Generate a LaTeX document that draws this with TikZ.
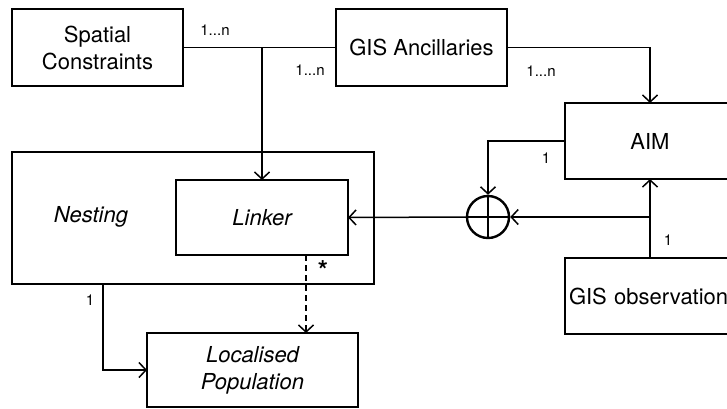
\documentclass[tikz,border=0pt]{standalone}
\usepackage{fontspec}
\setmainfont{TeX Gyre Heros}
\usepackage{tikz}
\usetikzlibrary{arrows.meta}

\begin{document}
\begin{tikzpicture}[x=1pt,y=-1pt,->,>={Straight Barb[length=7pt,width=15pt]},
  line width=1.5pt,
  box node/.style={rectangle,draw,inner sep=0pt,outer sep=0pt,align=center,
    font=\fontsize{22}{27}\selectfont},
  it node/.style={box node,font=\fontsize{22}{27}\selectfont\itshape},
  mult node/.style={font=\fontsize{15}{17}\selectfont,inner sep=0pt}]
  \useasboundingbox (0,0) rectangle (727,408);
  \clip (0,0) rectangle (727,408);

  \node[box node,minimum width=171pt,minimum height=77pt] (sc) at (97.5,47.5) {Spatial\\Constraints};
  \node[box node,minimum width=171pt,minimum height=77pt] (gis) at (421.5,47.5) {GIS Ancillaries};
  \node[box node,minimum width=170pt,minimum height=76pt] (aim) at (650,141) {AIM};
  \node[box node,minimum width=180pt,minimum height=76pt,text width=172pt,align=left] (obs) at (655,296) {GIS observation};
  \node[box node,minimum width=362pt,minimum height=132pt] (nest) at (193,218) {};
  \node[font=\fontsize{22}{27}\selectfont\itshape,inner sep=0pt] (nesttxt) at (91,217) {Nesting};
  \node[it node,minimum width=172pt,minimum height=75pt] (linker) at (262,217.5) {Linker};
  \node[it node,minimum width=211pt,minimum height=74pt] (lp) at (252.5,370) {Localised\\Population};
  \node[circle,draw,line width=2.4pt,minimum size=42pt,inner sep=0pt] (plus) at (488,217) {};
  \draw[-,line width=2.4pt] (plus.north) -- (plus.south) (plus.west) -- (plus.east);

  % ancillaries and constraints
  \draw[-] (sc.east) -- (gis.west);
  \draw (linker.north |- sc.east) -- (linker.north);
  \draw (gis.east) -| (aim.north);
  \node[mult node] (m1) at (215,30) {1...n};
  \node[mult node] (m2) at (310,70) {1...n};
  \node[mult node] (m3) at (541,71) {1...n};

  % AIM and observations
  \draw (aim.west) -| (plus.north);
  \draw (aim.south |- obs.north) -- (aim.south);
  \draw (aim.south |- plus.east) -- (plus.east);
  \draw (plus.west) -- (linker.east);
  \node[mult node] (m4) at (546,158) {1};
  \node[mult node] (m5) at (668,240) {1};

  % population
  \draw[dashed,dash pattern=on 6pt off 4pt] ([xshift=44pt]linker.south) -- ([xshift=44pt]linker.south |- lp.north);
  \draw ([xshift=91pt]nest.south west) |- (lp.west);
  \node[mult node] (m6) at (90,300) {1};
  \node[mult node,font=\fontsize{26}{26}\selectfont\bfseries] (m7) at (323,270) {*};
\end{tikzpicture}
\end{document}
